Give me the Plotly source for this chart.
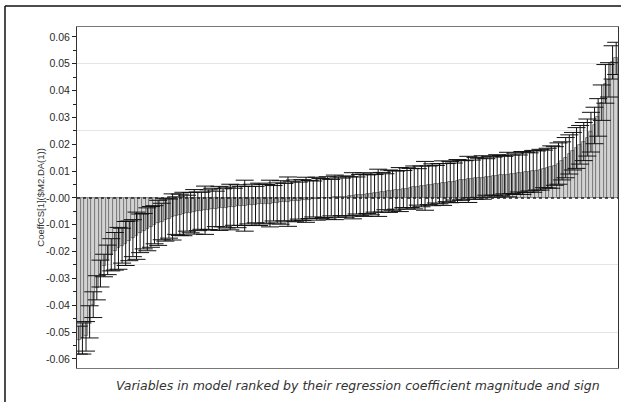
import plotly.graph_objects as go

coef = [
    -0.0530, -0.0524, -0.0516, -0.0462, -0.0398, -0.0335, -0.0282, -0.0252, -0.0231, -0.0212,
    -0.0199, -0.0188, -0.0178, -0.0170, -0.0160, -0.0150, -0.0141, -0.0132, -0.0124, -0.0117,
    -0.0108, -0.0100, -0.0093, -0.0088, -0.0082, -0.0077, -0.0071, -0.0066, -0.0063, -0.0060,
    -0.0057, -0.0055, -0.0052, -0.0050, -0.0048, -0.0046, -0.0044, -0.0042, -0.0041, -0.0039,
    -0.0037, -0.0036, -0.0034, -0.0033, -0.0031, -0.0030, -0.0029, -0.0027, -0.0026, -0.0025,
    -0.0024, -0.0023, -0.0022, -0.0021, -0.0020, -0.0019, -0.0017, -0.0016, -0.0014, -0.0013,
    -0.0011, -0.0010, -0.0008, -0.0007, -0.0006, -0.0004, -0.0003, -0.0002, -0.0001, 0.0000,
    0.0001, 0.0002, 0.0003, 0.0004, 0.0005, 0.0006, 0.0008, 0.0009, 0.0011, 0.0012,
    0.0014, 0.0015, 0.0017, 0.0019, 0.0021, 0.0023, 0.0025, 0.0027, 0.0029, 0.0031,
    0.0033, 0.0035, 0.0037, 0.0039, 0.0041, 0.0043, 0.0045, 0.0047, 0.0049, 0.0051,
    0.0053, 0.0055, 0.0057, 0.0059, 0.0061, 0.0063, 0.0065, 0.0067, 0.0069, 0.0071,
    0.0073, 0.0075, 0.0076, 0.0078, 0.0079, 0.0081, 0.0082, 0.0084, 0.0085, 0.0087,
    0.0088, 0.0090, 0.0091, 0.0093, 0.0095, 0.0097, 0.0099, 0.0102, 0.0105, 0.0108,
    0.0111, 0.0115, 0.0119, 0.0128, 0.0138, 0.0150, 0.0162, 0.0174, 0.0186, 0.0198,
    0.0210, 0.0225, 0.0245, 0.0270, 0.0300, 0.0355, 0.0425, 0.0440, 0.0505, 0.0520,
]

err = [
    0.0052, 0.0058, 0.0055, 0.0060, 0.0048, 0.0045, 0.0050, 0.0042, 0.0055, 0.0060,
    0.0070, 0.0078, 0.0065, 0.0082, 0.0074, 0.0069, 0.0088, 0.0072, 0.0066, 0.0080,
    0.0076, 0.0071, 0.0084, 0.0068, 0.0079, 0.0073, 0.0086, 0.0070, 0.0077, 0.0081,
    0.0067, 0.0075, 0.0083, 0.0072, 0.0069, 0.0090, 0.0074, 0.0078, 0.0066, 0.0082,
    0.0071, 0.0076, 0.0085, 0.0069, 0.0080, 0.0073, 0.0095, 0.0070, 0.0077, 0.0068,
    0.0079, 0.0074, 0.0072, 0.0087, 0.0066, 0.0075, 0.0081, 0.0070, 0.0092, 0.0073,
    0.0078, 0.0069, 0.0076, 0.0084, 0.0071, 0.0067, 0.0080, 0.0074, 0.0072, 0.0079,
    0.0068, 0.0083, 0.0075, 0.0070, 0.0077, 0.0073, 0.0086, 0.0069, 0.0076, 0.0081,
    0.0072, 0.0078, 0.0070, 0.0088, 0.0074, 0.0067, 0.0079, 0.0075, 0.0071, 0.0082,
    0.0069, 0.0077, 0.0073, 0.0080, 0.0068, 0.0076, 0.0091, 0.0072, 0.0078, 0.0070,
    0.0075, 0.0083, 0.0071, 0.0077, 0.0069, 0.0080, 0.0074, 0.0072, 0.0086, 0.0070,
    0.0078, 0.0073, 0.0081, 0.0068, 0.0076, 0.0071, 0.0079, 0.0074, 0.0070, 0.0083,
    0.0072, 0.0077, 0.0069, 0.0080, 0.0075, 0.0071, 0.0078, 0.0073, 0.0076, 0.0070,
    0.0074, 0.0079, 0.0072, 0.0077, 0.0071, 0.0075, 0.0073, 0.0070, 0.0076, 0.0072,
    0.0071, 0.0069, 0.0074, 0.0068, 0.0070, 0.0066, 0.0072, 0.0064, 0.0062, 0.0060,
]

variables = list(range(len(coef)))

tick_vals = [0.06, 0.05, 0.04, 0.03, 0.02, 0.01, 0.0, -0.01, -0.02, -0.03, -0.04, -0.05, -0.06]
tick_text = ["0.06", "0.05", "0.04", "0.03", "0.02", "0.01", "-0.00",
             "-0.01", "-0.02", "-0.03", "-0.04", "-0.05", "-0.06"]
grid_vals = [0.05, 0.025, -0.025, -0.05]

y_title = "CoeffCS[1]($M2.DA(1))"
x_title = "Variables in model ranked by their regression coefficient magnitude and sign"

YR = [-0.0634, 0.0637]

fig = go.Figure()
# invisible trace to activate the grid axis
fig.add_trace(go.Scatter(x=[None], y=[None], yaxis="y2", showlegend=False))
fig.add_trace(go.Bar(
    x=variables, y=coef,
    marker=dict(color="#d2d2d2", line=dict(color="#6e6e6e", width=0.8)),
    error_y=dict(type="data", array=err, visible=True, color="#111111", thickness=1, width=9),
    showlegend=False,
))

fig.update_layout(
    width=633, height=402,
    margin=dict(l=77, r=15, t=27, b=34),
    paper_bgcolor="white", plot_bgcolor="white",
    bargap=0,
    xaxis=dict(range=[-0.5, len(coef) - 0.5], showticklabels=False, ticks="",
               showgrid=False, zeroline=False, showline=True, mirror=True,
               linecolor="#777", linewidth=1),
    yaxis=dict(range=YR, tickvals=tick_vals, ticktext=tick_text, ticks="outside",
               ticklen=4, tickcolor="#222", showgrid=False, zeroline=False,
               showline=True, mirror=True, linecolor="#333", linewidth=1,
               layer="above traces",
               tickfont=dict(family="Liberation Sans, Arial", size=10.5, color="#2a2a2a"),
               minor=dict(dtick=0.005, tick0=0, ticks="outside", ticklen=3, tickcolor="#222")),
    yaxis2=dict(range=YR, overlaying="y", tickvals=grid_vals, showticklabels=False,
                ticks="", showgrid=True, gridcolor="#e4e4e4", gridwidth=1,
                zeroline=False, showline=False),
)

fig.add_shape(type="line", xref="paper", yref="y", x0=0, x1=1, y0=0, y1=0,
              line=dict(color="#222", width=1.5, dash="dot"))
# outer frame (left and top)
fig.add_shape(type="line", xref="paper", yref="paper", x0=-0.1331, x1=-0.1331, y0=-0.1, y1=1.0616,
              line=dict(color="#111", width=1.5))
fig.add_shape(type="line", xref="paper", yref="paper", x0=-0.1331, x1=1.0055, y0=1.0616, y1=1.0616,
              line=dict(color="#111", width=1.5))

fig.add_annotation(text=y_title, xref="paper", yref="paper", x=-0.0813, y=0.501,
                   textangle=-90, showarrow=False,
                   font=dict(family="Liberation Sans, Arial", size=9.5, color="#333"))
fig.add_annotation(text="<i>" + x_title + "</i>", xref="paper", yref="paper", x=0.519, y=-0.022,
                   yanchor="top", showarrow=False,
                   font=dict(family="DejaVu Sans", size=12.5, color="#333"))

fig.write_html("out.html")
